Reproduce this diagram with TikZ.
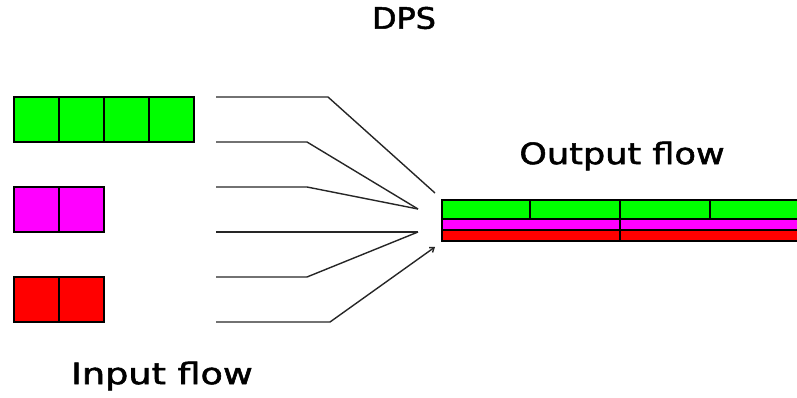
\documentclass[tikz,border=0pt]{standalone}
\usepackage{fontspec}
\usepackage{graphicx}
\setmainfont{DejaVu Sans}
\newfontfamily\lblfont[FakeBold=1.6]{DejaVu Sans}
\usetikzlibrary{arrows.meta}
\definecolor{cgreen}{HTML}{00FF00}
\definecolor{cmag}{HTML}{FF00FF}
\definecolor{cred}{HTML}{FF0000}
\begin{document}
\begin{tikzpicture}[x=1pt,y=-1pt,
  cell/.style={draw=black,line width=1.6pt,minimum width=45pt,minimum height=45pt,inner sep=0pt,outer sep=0pt,anchor=north west},
  band/.style={draw=black,line width=1.2pt},
  conn/.style={draw=black!85,line width=1.4pt},
  lbl/.style={font=\lblfont\fontsize{29.5}{32}\selectfont,inner sep=0pt}]
\useasboundingbox (0,0) rectangle (797,398);
\clip (0,0) rectangle (797,398);
% input cells
\foreach \i/\x in {1/14,2/59,3/104,4/149}{\node[cell,fill=cgreen] (g\i) at (\x,97) {};}
\foreach \i/\x in {1/14,2/59}{\node[cell,fill=cmag] (m\i) at (\x,187) {};}
\foreach \i/\x in {1/14,2/59}{\node[cell,fill=cred] (r\i) at (\x,277) {};}
% output flow bands
\draw[band,fill=cgreen] (442,200) rectangle (530,219);
\draw[band,fill=cgreen] (530,200) rectangle (620,219);
\draw[band,fill=cgreen] (620,200) rectangle (710,219);
\draw[band,fill=cgreen] (710,200) rectangle (805,219);
\draw[band,fill=cmag] (442,219) rectangle (620,230);
\draw[band,fill=cmag] (620,219) rectangle (805,230);
\draw[band,fill=cred] (442,230) rectangle (620,241);
\draw[band,fill=cred] (620,230) rectangle (805,241);
% connector points
\coordinate (s1) at (216,97);  \coordinate (k1) at (328,97);  \coordinate (e1) at (435,193);
\coordinate (s2) at (216,142); \coordinate (k2) at (307,142); \coordinate (e2) at (418,209);
\coordinate (s3) at (216,187); \coordinate (k3) at (307,187); \coordinate (e3) at (418,209);
\coordinate (s4) at (216,232); \coordinate (k4) at (307,232); \coordinate (e4) at (418,232);
\coordinate (s5) at (216,277); \coordinate (k5) at (307,277); \coordinate (e5) at (418,232);
\coordinate (s6) at (216,322); \coordinate (k6) at (330,322); \coordinate (e6) at (435,247);
\foreach \i in {1,...,5}{\draw[conn] (s\i) -- (k\i) -- (e\i);}
\draw[conn,-{Straight Barb[length=4pt,width=6pt]}] (s6) -- (k6) -- (e6);
% labels
\node[lbl] (dps) at (404,18) {\scalebox{1.08}[1]{DPS}};
\node[lbl] (out) at (622,156) {\scalebox{1.19}[1]{Output flow}};
\node[lbl] (in) at (162,376) {\scalebox{1.24}[1]{Input flow}};
\end{tikzpicture}
\end{document}
